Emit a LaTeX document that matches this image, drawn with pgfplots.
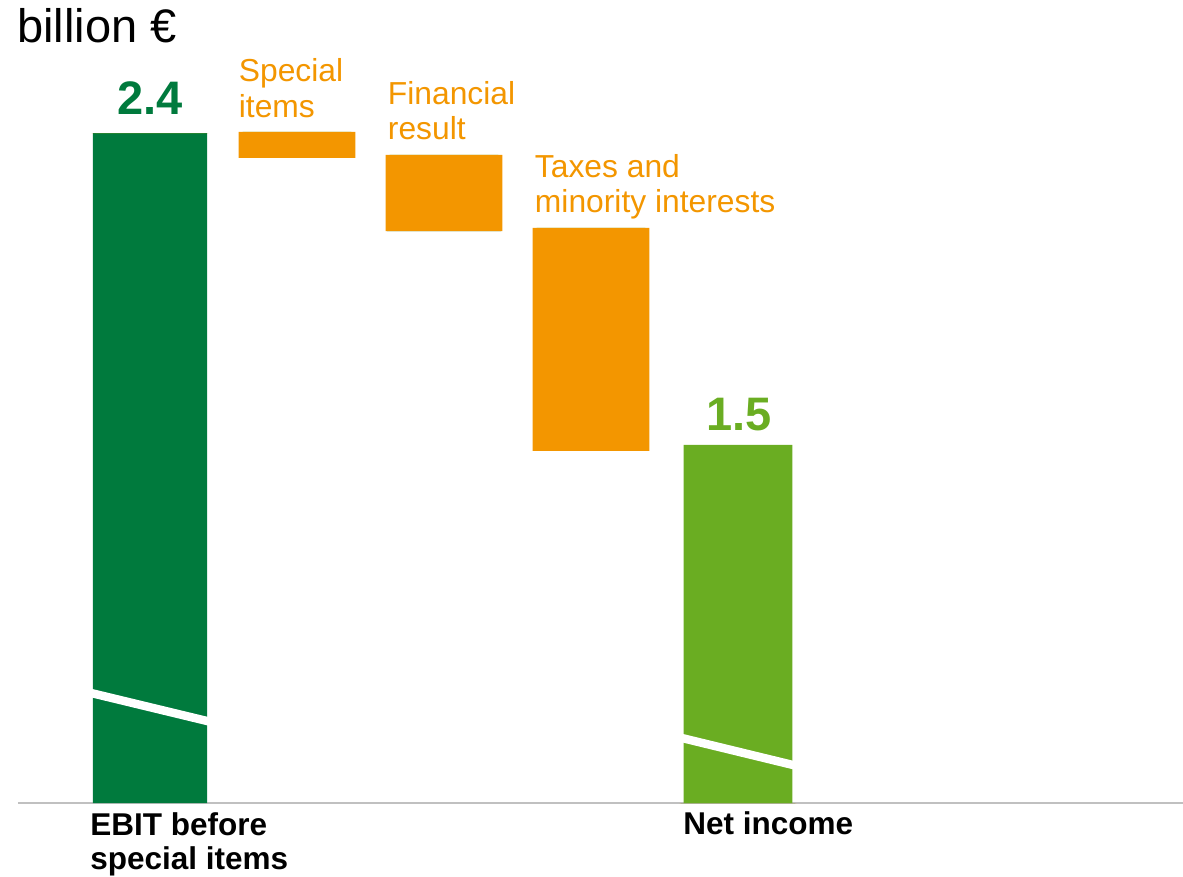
\documentclass[border=0pt]{standalone}
\usepackage{fontspec}
\setmainfont{Liberation Sans}
\usepackage{pgfplots}
\usepackage{pgfplotstable}
\pgfplotsset{compat=1.18}
\definecolor{ebitgreen}{RGB}{0,122,61}
\definecolor{netgreen}{RGB}{106,173,34}
\definecolor{wforange}{RGB}{243,150,0}
\definecolor{axisgray}{RGB}{192,192,192}
% waterfall values in billion EUR (lo/hi of each bar)
\pgfplotstableread{
x  lo     hi
0  0      2.400
1  2.328  2.403
2  2.117  2.337
3  1.483  2.126
4  0      1.500
}\wf
% axis break markers (visual units)
\pgfplotstableread{
x     y
-0.42 0.3193
0.42  0.2333
}\breakA
\pgfplotstableread{
x     y
3.60  0.1894
4.41  0.1059
}\breakB
\def\brk{0.467}
\begin{document}
\begin{tikzpicture}
\begin{axis}[
  scale only axis, width=582.5pt, height=401.5pt,
  xmin=-0.898, xmax=7.027, ymin=0, ymax=2.3168,
  axis x line*=bottom, axis y line=none,
  xtick=\empty, ytick=\empty,
  x axis line style={draw=axisgray, line width=1pt, -},
  clip=false,
  wfbar/.style={ybar, stack plots=y, bar shift=0pt, draw=none},
]
\addplot[wfbar, fill=none, forget plot] table[x=x, y expr={\thisrow{lo}>0 ? \thisrow{lo}-\brk : 0}] {\wf};
\addplot[wfbar, fill=ebitgreen, bar width=0.776] table[x=x, y expr={\thisrow{x}==0 ? \thisrow{hi}-\brk : 0}] {\wf};
\addplot[wfbar, fill=wforange, bar width=0.795] table[x=x, y expr={(\thisrow{x}>0 && \thisrow{x}<4) ? \thisrow{hi}-\thisrow{lo} : 0}] {\wf};
\addplot[wfbar, fill=netgreen, bar width=0.741] table[x=x, y expr={\thisrow{x}==4 ? \thisrow{hi}-\brk : 0}] {\wf};
\addplot[sharp plot, stack plots=false, draw=white, line width=4.2pt, forget plot] table[x=x, y=y] {\breakA};
\addplot[sharp plot, stack plots=false, draw=white, line width=4.2pt, forget plot] table[x=x, y=y] {\breakB};

\node[anchor=base west, inner sep=0, font=\fontsize{23.5}{26}\selectfont] at (axis cs:-0.905,2.193) {billion €};
\node[anchor=base, inner sep=0, text=ebitgreen, font=\fontsize{23.5}{26}\selectfont\bfseries] at (axis cs:0,1.985) {2.4};
\node[anchor=base, inner sep=0, text=netgreen, font=\fontsize{23.5}{26}\selectfont\bfseries] at (axis cs:4.007,1.076) {1.5};

\node[anchor=base west, inner sep=0, text=wforange, font=\fontsize{15.9}{17.5}\selectfont] at (axis cs:0.602,2.0802) {Special};
\node[anchor=base west, inner sep=0, text=wforange, font=\fontsize{15.9}{17.5}\selectfont] at (axis cs:0.602,1.9792) {items};
\node[anchor=base west, inner sep=0, text=wforange, font=\fontsize{15.9}{17.5}\selectfont] at (axis cs:1.616,2.0139) {Financial};
\node[anchor=base west, inner sep=0, text=wforange, font=\fontsize{15.9}{17.5}\selectfont] at (axis cs:1.616,1.9129) {result};
\node[anchor=base west, inner sep=0, text=wforange, font=\fontsize{15.9}{17.5}\selectfont] at (axis cs:2.616,1.8061) {Taxes and};
\node[anchor=base west, inner sep=0, text=wforange, font=\fontsize{15.9}{17.5}\selectfont] at (axis cs:2.616,1.7051) {minority interests};

\node[anchor=base west, inner sep=0, font=\fontsize{15.75}{17}\selectfont\bfseries] at (axis cs:-0.408,-0.0952) {EBIT before};
\node[anchor=base west, inner sep=0, font=\fontsize{15.75}{17}\selectfont\bfseries] at (axis cs:-0.408,-0.1933) {special items};
\node[anchor=base west, inner sep=0, font=\fontsize{15.75}{17}\selectfont\bfseries] at (axis cs:3.626,-0.0923) {Net income};

\coordinate (bbsw) at (axis cs:-1.0204,-0.2135);
\coordinate (bbne) at (axis cs:7.027,2.3168);
\end{axis}
\pgfresetboundingbox
\useasboundingbox (bbsw) rectangle (bbne);
\end{tikzpicture}
\end{document}
